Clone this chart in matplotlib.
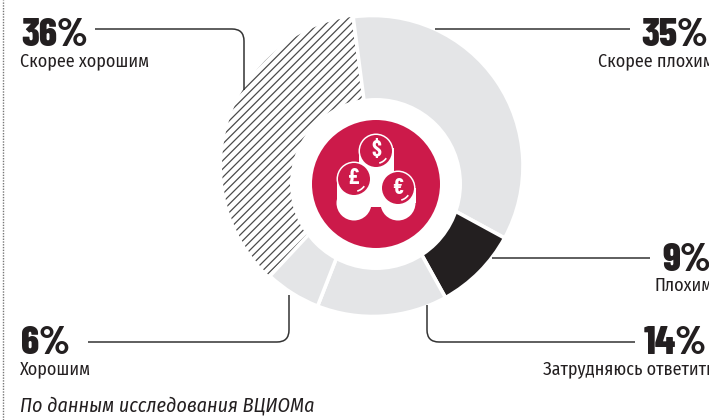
import matplotlib
matplotlib.use("Agg")
import matplotlib.pyplot as plt
import matplotlib.font_manager as fm
from matplotlib.patches import Circle, Rectangle, PathPatch, Arc
from matplotlib.path import Path

names = {f.name for f in fm.fontManager.ttflist}


def pick(*cands):
    for c in cands:
        if c in names:
            return c
    return "Roboto"


BIG_FONT = pick("Barlow Condensed", "Fira Sans Condensed", "Roboto Condensed", "Liberation Sans Narrow")
TXT_FONT = pick("Fira Sans Condensed", "Roboto Condensed", "PT Sans Narrow", "Liberation Sans Narrow")

categories = ["Скорее плохим", "Плохим", "Затрудняюсь ответить", "Хорошим", "Скорее хорошим"]
values = [35, 9, 14, 6, 36]
percent_labels = ["35%", "9%", "14%", "6%", "36%"]
footnote = "По данным исследования ВЦИОМа"
currency = ["$", "£", "€"]

GREY = "#e4e5e7"
BLACK = "#231f20"
RED = "#cc1a4a"
LINE = "#333333"
H = 420

plt.rcParams["hatch.linewidth"] = 0.9
fig = plt.figure(figsize=(7.09, 4.2), dpi=100, facecolor="white")
ax = fig.add_axes([0, 0, 1, 1])

wedges, _ = ax.pie(values, startangle=97.4, counterclock=False,
                   center=(372.5, H - 166), radius=150.5, frame=True,
                   colors=[GREY, BLACK, GREY, GREY, "white"],
                   wedgeprops=dict(edgecolor="white", linewidth=2.6))
wedges[4].set(hatch="////", edgecolor="#4a4a4a", linewidth=0, zorder=1)
for i in range(4):
    wedges[i].set_zorder(2)

ax.set_xlim(0, 709)
ax.set_ylim(0, H)
ax.set_aspect("equal")
ax.axis("off")

ax.add_patch(Circle((376, H - 184), 86, fc="white", ec="none", zorder=3))
ax.add_patch(Circle((376, H - 184), 64, fc=RED, ec="none", zorder=4))

# coins
coins = [(376, 151), (354, 179), (398, 188)]
ax.add_patch(Rectangle((358.5, H - 188), 35, 40, fc="white", ec="none", zorder=5))
ax.add_patch(Rectangle((336.5, H - 203), 35, 24, fc="white", ec="none", zorder=5))
ax.add_patch(Rectangle((380.5, H - 203), 35, 15, fc="white", ec="none", zorder=5))
ax.add_patch(Rectangle((360, H - 207), 32, 20, fc="white", ec="none", zorder=5))
ax.add_patch(Rectangle((372, H - 222), 8, 15, fc=RED, ec="none", zorder=5.5))
for cx in (354, 398):
    ax.add_patch(Circle((cx, H - 203), 17.5, fc="white", ec="none", zorder=6))
for (cx, cy), sym in zip(coins, currency):
    ax.add_patch(Circle((cx, H - cy), 17.5, fc="white", ec="none", zorder=7))
    ax.add_patch(Circle((cx, H - cy), 16, fc=RED, ec="none", zorder=8))
    ax.text(cx, H - cy + 0.5, sym, color="white", fontsize=16, fontweight="bold",
            ha="center", va="center", zorder=9, family=BIG_FONT)
    ax.add_patch(Arc((cx, H - cy), 25, 25, theta1=-75, theta2=-35, ec="white", lw=1.2, zorder=9))


def leader(pts):
    verts, codes = [], []
    for i, p in enumerate(pts):
        verts.append((p[0], H - p[1]))
        codes.append(Path.MOVETO if i == 0 else Path.LINETO)
    ax.add_patch(PathPatch(Path(verts, codes), fc="none", ec=LINE, lw=1.1, zorder=2.5))


def rounded(a, corner, b, r=12):
    def toward(p, q):
        d = ((q[0] - p[0]) ** 2 + (q[1] - p[1]) ** 2) ** 0.5
        return (p[0] + (q[0] - p[0]) * r / d, p[1] + (q[1] - p[1]) * r / d)
    s, e = toward(corner, a), toward(corner, b)
    verts = [(x, H - y) for x, y in [a, s, corner, e, b]]
    codes = [Path.MOVETO, Path.LINETO, Path.CURVE3, Path.CURVE3, Path.LINETO]
    ax.add_patch(PathPatch(Path(verts, codes), fc="none", ec=LINE, lw=1.1, zorder=2.5))


rounded((95, 29), (244, 29), (244, 90))
leader([(435, 29), (630, 29)])
leader([(492, 258), (650, 258)])
rounded((427, 305), (427, 342), (635, 342))
rounded((88, 342), (289, 342), (289, 295))

# dotted frame line at left
ax.plot([3, 3], [0, H], color="#777777", lw=1.0, ls=(0, (1, 1)), zorder=1)

BIG = dict(fontsize=29, fontweight=800, color=BLACK, family=BIG_FONT, va="baseline")
SMALL = dict(fontsize=13, color=BLACK, family=TXT_FONT, va="baseline")

ax.text(21, H - 46, percent_labels[4], ha="left", **BIG)
ax.text(20, H - 66, categories[4], ha="left", **SMALL)
ax.text(641, H - 46, percent_labels[0], ha="left", **BIG)
ax.text(598, H - 66, categories[0], ha="left", **SMALL)
ax.text(662, H - 271, percent_labels[1], ha="left", **BIG)
ax.text(655, H - 291, categories[1], ha="left", **SMALL)
ax.text(644, H - 354, percent_labels[2], ha="left", **BIG)
ax.text(543, H - 374, categories[2], ha="left", **SMALL)
ax.text(21, H - 354, percent_labels[3], ha="left", **BIG)
ax.text(20, H - 374, categories[3], ha="left", **SMALL)
ax.text(20, H - 412, footnote, ha="left", va="baseline", fontsize=14.4,
        style="italic", color=BLACK, family=TXT_FONT)

fig.savefig("out.png", dpi=100, facecolor="white")
